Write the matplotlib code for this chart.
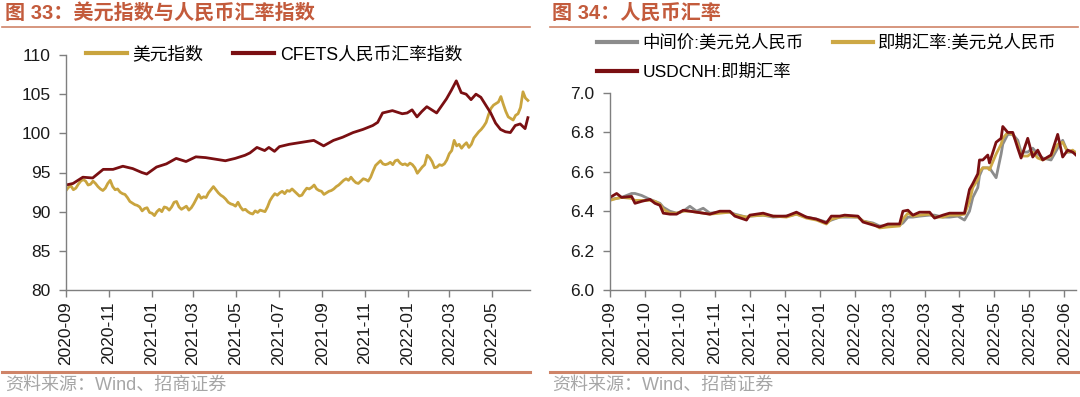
import matplotlib
matplotlib.use('Agg')
import matplotlib.pyplot as plt
from matplotlib.lines import Line2D
from matplotlib.ticker import FormatStrFormatter
import pandas as pd

# ---------------- data: left chart ----------------
dxy_start = '2020-09-01'
dxy_values = [
    92.7, 93.1, 93.3, 92.8, 93.0, 93.5, 93.9, 94.1, 93.9, 93.4,
    93.5, 93.9, 93.6, 93.2, 92.9, 92.7, 93.0, 93.6, 94.0, 93.2,
    92.8, 92.9, 92.5, 92.3, 92.2, 91.8, 91.3, 91.1, 90.9, 90.8,
    90.6, 90.1, 90.4, 90.5, 89.9, 89.8, 89.5, 90.0, 90.3, 90.0,
    90.6, 90.5, 90.2, 90.6, 91.2, 91.3, 90.6, 90.3, 90.5, 90.7,
    90.2, 90.5, 91.0, 91.6, 92.2, 91.7, 91.9, 91.8, 92.4, 92.8,
    93.2, 92.8, 92.4, 92.1, 91.9, 91.6, 91.2, 91.0, 90.9, 90.7,
    91.2, 90.6, 90.2, 90.3, 90.0, 89.8, 89.7, 90.1, 89.9, 90.2,
    90.1, 90.0, 90.6, 91.4, 91.9, 92.3, 92.1, 92.4, 92.6, 92.3,
    92.7, 92.6, 92.9, 92.6, 92.3, 92.0, 92.1, 92.6, 93.0, 92.9,
    93.1, 93.4, 92.9, 92.7, 92.6, 92.2, 92.4, 92.6, 92.7, 92.9,
    93.2, 93.4, 93.7, 94.0, 94.2, 94.0, 94.4, 94.0, 93.7, 93.6,
    93.9, 94.2, 94.1, 93.9, 94.4, 95.2, 95.9, 96.2, 96.5, 96.1,
    96.0, 96.1, 96.3, 96.0, 96.5, 96.6, 96.2, 96.0, 96.1, 95.9,
    96.2, 96.0, 95.6, 94.9, 95.3, 95.7, 96.0, 97.2, 96.9, 96.4,
    95.6, 95.7, 96.0, 95.9, 96.1, 96.6, 97.4, 97.8, 99.1, 98.4,
    98.6, 98.1, 98.5, 98.8, 98.2, 98.6, 99.4, 99.8, 100.2, 100.5,
    100.9, 101.4, 102.4, 103.2, 103.6, 103.8, 104.0, 104.7, 103.7, 102.8,
    102.1, 101.9, 101.7, 102.3, 102.5, 103.3, 105.3, 104.5, 104.2,
]
dxy_dates = pd.date_range(dxy_start, periods=len(dxy_values), freq='84h')

cfets_dates = pd.to_datetime([
    '2020-09-01', '2020-09-11', '2020-09-25', '2020-10-09', '2020-10-24',
    '2020-11-07', '2020-11-21', '2020-12-05', '2020-12-18', '2020-12-25',
    '2021-01-08', '2021-01-22', '2021-02-05', '2021-02-19', '2021-03-05',
    '2021-03-19', '2021-04-02', '2021-04-16', '2021-04-30', '2021-05-14',
    '2021-05-21', '2021-05-31', '2021-06-11', '2021-06-17', '2021-06-25',
    '2021-07-02', '2021-07-16', '2021-07-30', '2021-08-13', '2021-08-20',
    '2021-09-03', '2021-09-17', '2021-09-30', '2021-10-15', '2021-10-29',
    '2021-11-12', '2021-11-19', '2021-11-26', '2021-12-10', '2021-12-24',
    '2021-12-31', '2022-01-07', '2022-01-14', '2022-01-21', '2022-01-28',
    '2022-02-11', '2022-02-25', '2022-03-04', '2022-03-11', '2022-03-18',
    '2022-03-25', '2022-04-01', '2022-04-08', '2022-04-15', '2022-04-22',
    '2022-04-29', '2022-05-06', '2022-05-13', '2022-05-20', '2022-05-27',
    '2022-06-03', '2022-06-10', '2022-06-17', '2022-06-21',
])
cfets_values = [
    93.4, 93.6, 94.4, 94.3, 95.4, 95.4, 95.8, 95.5, 95.0, 94.8,
    95.7, 96.1, 96.8, 96.4, 97.0, 96.9, 96.7, 96.5, 96.8, 97.2,
    97.5, 98.2, 97.8, 98.2, 97.7, 98.3, 98.6, 98.8, 99.0, 99.1,
    98.4, 99.1, 99.5, 100.1, 100.5, 101.0, 101.4, 102.6, 102.9, 102.5,
    102.6, 103.0, 102.1, 102.8, 103.4, 102.6, 104.4, 105.5, 106.7, 105.2,
    105.0, 104.3, 105.0, 104.6, 103.6, 102.6, 101.3, 100.5, 100.2, 100.1,
    101.0, 101.2, 100.6, 102.0,
]

left_tick_labels = ['2020-09', '2020-11', '2021-01', '2021-03', '2021-05',
                    '2021-07', '2021-09', '2021-11', '2022-01', '2022-03',
                    '2022-05']
left_yticks = [80, 85, 90, 95, 100, 105, 110]

# ---------------- data: right chart ----------------
fx_dates = pd.to_datetime([
    '2021-09-15', '2021-09-19', '2021-09-22', '2021-09-28', '2021-09-30',
    '2021-10-04', '2021-10-09', '2021-10-12', '2021-10-15', '2021-10-17',
    '2021-10-21', '2021-10-25', '2021-10-29', '2021-11-02', '2021-11-06',
    '2021-11-10', '2021-11-14', '2021-11-20', '2021-11-26', '2021-11-29',
    '2021-12-06', '2021-12-08', '2021-12-16', '2021-12-22', '2021-12-30',
    '2022-01-05', '2022-01-11', '2022-01-17', '2022-01-23', '2022-01-26',
    '2022-01-31', '2022-02-03', '2022-02-11', '2022-02-14', '2022-02-20',
    '2022-02-24', '2022-03-01', '2022-03-08', '2022-03-10', '2022-03-13',
    '2022-03-16', '2022-03-20', '2022-03-26', '2022-03-29', '2022-04-03',
    '2022-04-07', '2022-04-12', '2022-04-16', '2022-04-19', '2022-04-21',
    '2022-04-24', '2022-04-25', '2022-04-27', '2022-04-30', '2022-05-01',
    '2022-05-05', '2022-05-08', '2022-05-09', '2022-05-12', '2022-05-15',
    '2022-05-18', '2022-05-20', '2022-05-24', '2022-05-27', '2022-05-30',
    '2022-06-02', '2022-06-07', '2022-06-11', '2022-06-14', '2022-06-17',
    '2022-06-20', '2022-06-22',
])
cnh_values = [
    6.470, 6.490, 6.470, 6.475, 6.440, 6.450, 6.460, 6.440, 6.430, 6.390,
    6.385, 6.385, 6.405, 6.400, 6.395, 6.390, 6.385, 6.400, 6.400, 6.375,
    6.355, 6.380, 6.390, 6.375, 6.375, 6.395, 6.370, 6.360, 6.340, 6.375,
    6.375, 6.380, 6.375, 6.345, 6.330, 6.320, 6.335, 6.335, 6.400, 6.405,
    6.380, 6.395, 6.395, 6.365, 6.380, 6.390, 6.390, 6.390, 6.510, 6.540,
    6.590, 6.660, 6.660, 6.685, 6.645, 6.750, 6.770, 6.830, 6.800, 6.800,
    6.720, 6.670, 6.770, 6.675, 6.710, 6.660, 6.685, 6.790, 6.675, 6.710,
    6.700, 6.685,
]
spot_values = [
    6.455, 6.465, 6.470, 6.465, 6.455, 6.455, 6.455, 6.450, 6.435, 6.410,
    6.390, 6.390, 6.400, 6.400, 6.395, 6.390, 6.385, 6.390, 6.395, 6.380,
    6.370, 6.375, 6.380, 6.375, 6.370, 6.385, 6.365, 6.355, 6.335, 6.360,
    6.370, 6.375, 6.370, 6.350, 6.335, 6.315, 6.320, 6.325, 6.360, 6.390,
    6.375, 6.380, 6.385, 6.370, 6.370, 6.380, 6.380, 6.385, 6.450, 6.520,
    6.560, 6.600, 6.620, 6.620, 6.610, 6.690, 6.740, 6.770, 6.800, 6.790,
    6.740, 6.680, 6.680, 6.700, 6.670, 6.660, 6.680, 6.740, 6.750, 6.700,
    6.710, 6.695,
]
mid_values = [
    6.460, 6.465, 6.470, 6.490, 6.490, 6.480, 6.460, 6.450, 6.440, 6.420,
    6.400, 6.390, 6.400, 6.425, 6.400, 6.415, 6.390, 6.395, 6.395, 6.385,
    6.370, 6.375, 6.380, 6.370, 6.375, 6.385, 6.370, 6.360, 6.345, 6.355,
    6.370, 6.370, 6.370, 6.350, 6.340, 6.325, 6.325, 6.330, 6.340, 6.370,
    6.370, 6.375, 6.380, 6.380, 6.370, 6.370, 6.375, 6.355, 6.400, 6.470,
    6.520, 6.580, 6.620, 6.620, 6.620, 6.570, 6.690, 6.740, 6.790, 6.790,
    6.760, 6.700, 6.700, 6.720, 6.690, 6.670, 6.660, 6.720, 6.760, 6.700,
    6.700, 6.700,
]
right_tick_dates = pd.to_datetime([
    '2021-09-15', '2021-10-06', '2021-10-27', '2021-11-17', '2021-12-08',
    '2021-12-29', '2022-01-19', '2022-02-09', '2022-03-02', '2022-03-23',
    '2022-04-13', '2022-05-04', '2022-05-25', '2022-06-15',
])
right_tick_labels = ['2021-09', '2021-10', '2021-10', '2021-11', '2021-12',
                     '2021-12', '2022-01', '2022-02', '2022-03', '2022-03',
                     '2022-04', '2022-05', '2022-05', '2022-06']
right_yticks = [6.0, 6.2, 6.4, 6.6, 6.8, 7.0]

# ---------------- style ----------------
plt.rcParams['font.family'] = ['Liberation Sans', 'Noto Sans CJK SC']
C_DXY = '#C9A43E'
C_CFETS = '#7A0F12'
C_MID = '#8C8C8C'
C_SPOT = '#CDA845'
C_CNH = '#7A0F12'
C_TITLE = '#C35B3C'
C_RULE = '#CF8468'
C_AXIS = '#7F7F7F'

W, H = 1080, 397
fig = plt.figure(figsize=(W / 100, H / 100), dpi=100)


def rect(x0, y0, x1, y1):
    return [x0 / W, 1 - y1 / H, (x1 - x0) / W, (y1 - y0) / H]


def style_axes(ax):
    for s in ['top', 'right']:
        ax.spines[s].set_visible(False)
    for s in ['left', 'bottom']:
        ax.spines[s].set_color(C_AXIS)
        ax.spines[s].set_linewidth(1.0)
    ax.tick_params(direction='out', length=5, width=1, color=C_AXIS,
                   labelsize=12.5, labelcolor='#1a1a1a')
    ax.tick_params(axis='x', labelrotation=90, pad=3)
    ax.tick_params(axis='y', pad=6)


# ---- left chart ----
ax1 = fig.add_axes(rect(66, 55, 530, 290))
style_axes(ax1)
ax1.plot(dxy_dates, dxy_values, color=C_DXY, lw=2.0, label='美元指数')
ax1.plot(cfets_dates, cfets_values, color=C_CFETS, lw=2.0,
         label='CFETS人民币汇率指数')
ax1.set_ylim(80, 110)
ax1.set_yticks(left_yticks)
ax1.set_xlim(pd.Timestamp('2020-09-01'), pd.Timestamp('2022-06-24'))
ax1.set_xticks(pd.to_datetime([s + '-01' for s in left_tick_labels]))
ax1.set_xticklabels(left_tick_labels)

ax1.legend(handles=[Line2D([], [], color=C_DXY, lw=3),
                    Line2D([], [], color=C_CFETS, lw=3)],
           labels=['美元指数', 'CFETS人民币汇率指数'],
           loc='center left', bbox_to_anchor=(86 / W, 1 - 55 / H),
           bbox_transform=fig.transFigure, ncol=2, frameon=False,
           borderpad=0, borderaxespad=0, handlelength=2.3,
           handletextpad=0.3, columnspacing=1.7, fontsize=12.8)

# ---- right chart ----
ax2 = fig.add_axes(rect(610, 93, 1076, 290))
style_axes(ax2)
ax2.plot(fx_dates, mid_values, color=C_MID, lw=2.0)
ax2.plot(fx_dates, spot_values, color=C_SPOT, lw=2.0)
ax2.plot(fx_dates, cnh_values, color=C_CNH, lw=2.0)
ax2.set_ylim(6.0, 7.0)
ax2.set_yticks(right_yticks)
ax2.yaxis.set_major_formatter(FormatStrFormatter('%.1f'))
ax2.set_xlim(pd.Timestamp('2021-09-15'), pd.Timestamp('2022-06-22'))
ax2.set_xticks(right_tick_dates)
ax2.set_xticklabels(right_tick_labels)

ax2.legend(handles=[Line2D([], [], color=C_MID, lw=3),
                    Line2D([], [], color=C_CNH, lw=3),
                    Line2D([], [], color=C_SPOT, lw=3)],
           labels=['中间价:美元兑人民币', 'USDCNH:即期汇率',
                   '即期汇率:美元兑人民币'],
           loc='upper left', bbox_to_anchor=(597 / W, 1 - 34 / H),
           bbox_transform=fig.transFigure, ncol=2, frameon=False,
           borderpad=0, borderaxespad=0, handlelength=2.3,
           handletextpad=0.3, columnspacing=1.7, labelspacing=0.75,
           fontsize=12.5)

# ---- titles, rules, footers ----
title_font = ['Liberation Sans', 'Noto Sans CJK SC']
fig.text(5 / W, 1 - 13 / H, '图 33：美元指数与人民币汇率指数', fontsize=14.5,
         fontweight='bold', color=C_TITLE, va='center', ha='left',
         family=title_font)
fig.text(552 / W, 1 - 13 / H, '图 34：人民币汇率', fontsize=14.5,
         fontweight='bold', color=C_TITLE, va='center', ha='left',
         family=title_font)
for x0, x1 in [(2, 530), (550, 1078)]:
    fig.add_artist(Line2D([x0 / W, x1 / W], [1 - 27 / H, 1 - 27 / H],
                          color=C_RULE, lw=1.2))
    fig.add_artist(Line2D([x0 / W, x1 / W], [1 - 372 / H, 1 - 372 / H],
                          color=C_RULE, lw=2.2))
for fx in [5, 552]:
    fig.text(fx / W, 1 - 385 / H, '资料来源：Wind、招商证券', fontsize=13,
             color='#A6A6A6', va='center', ha='left', family=title_font)

fig.savefig('out.png', dpi=100)
